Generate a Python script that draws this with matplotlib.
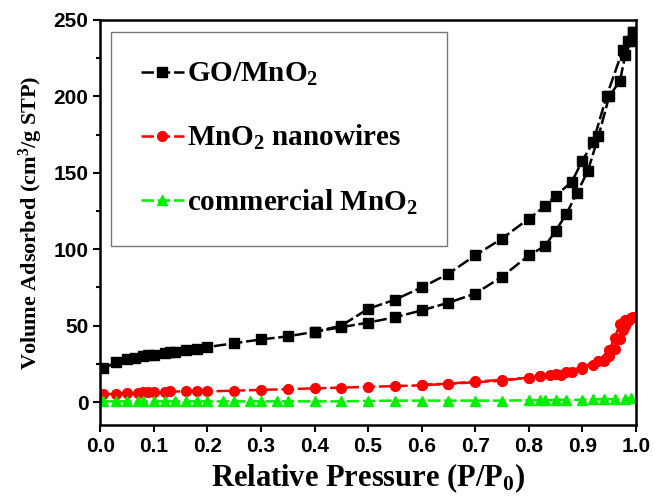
import matplotlib.pyplot as plt
from matplotlib.ticker import MultipleLocator

plt.rcParams['mathtext.fontset'] = 'custom'
plt.rcParams['mathtext.rm'] = 'Liberation Serif:bold'
plt.rcParams['mathtext.it'] = 'Liberation Serif:bold'
plt.rcParams['mathtext.bf'] = 'Liberation Serif:bold'

# GO/MnO2 adsorption (lower branch) and desorption (upper branch)
go_ads_x = [0.005, 0.03, 0.05, 0.065, 0.08, 0.09, 0.1, 0.12, 0.13, 0.14, 0.16, 0.18, 0.2,
            0.25, 0.3, 0.35, 0.4, 0.45, 0.5, 0.55, 0.6, 0.65, 0.7, 0.75, 0.8, 0.83, 0.85,
            0.87, 0.89, 0.91, 0.93, 0.95, 0.97, 0.98, 0.99, 0.995]
go_ads_y = [22, 26, 28, 29, 30, 30.5, 31, 32, 32.5, 33, 34, 35, 36,
            38.5, 41, 43, 46, 49, 52, 55.5, 60, 65, 71, 82, 96, 102, 112,
            123, 137, 151, 174, 200, 210, 227, 236, 242]
go_des_x = [0.995, 0.985, 0.975, 0.945, 0.92, 0.9, 0.88, 0.85, 0.83, 0.8, 0.75, 0.7,
            0.65, 0.6, 0.55, 0.5, 0.45, 0.4]
go_des_y = [242, 236, 230, 200, 170, 158, 144, 135, 128, 120, 107, 96,
            84, 75, 67, 61, 50, 46]

# MnO2 nanowires
nw_ads_x = [0.005, 0.03, 0.05, 0.07, 0.08, 0.09, 0.1, 0.12, 0.13, 0.16, 0.18, 0.2, 0.25,
            0.3, 0.35, 0.4, 0.45, 0.5, 0.55, 0.6, 0.65, 0.7, 0.75, 0.8, 0.82, 0.84, 0.86,
            0.88, 0.9, 0.92, 0.94, 0.95, 0.96, 0.97, 0.975, 0.98, 0.985, 0.99, 0.995]
nw_ads_y = [5, 5.5, 6, 6, 6.5, 6.5, 6.5, 6.5, 7, 7, 7, 7, 7.5,
            8, 8.5, 9, 9.5, 10, 10.5, 11, 12, 13, 14, 16, 17, 17.5, 18,
            19.5, 21.5, 24, 27, 30, 35, 41, 47, 50, 53, 55, 56]
nw_des_x = [0.995, 0.99, 0.98, 0.97, 0.96, 0.95, 0.93, 0.9, 0.87, 0.85, 0.82, 0.8,
            0.75, 0.7, 0.65, 0.6]
nw_des_y = [56, 55, 54, 51, 42, 34, 27, 23, 20, 18.5, 17, 16,
            14.5, 13.5, 12, 11.5]

# commercial MnO2
cm_x = [0.005, 0.03, 0.05, 0.07, 0.08, 0.1, 0.12, 0.14, 0.16, 0.18, 0.2, 0.23, 0.25,
        0.28, 0.3, 0.33, 0.35, 0.4, 0.45, 0.5, 0.55, 0.6, 0.65, 0.7, 0.75, 0.8, 0.82,
        0.83, 0.85, 0.87, 0.9, 0.92, 0.94, 0.96, 0.98, 0.99]
cm_y = [0.5, 0.5, 0.5, 0.5, 0.5, 0.5, 0.5, 0.5, 0.5, 0.5, 0.5, 0.5, 0.5,
        0.5, 0.5, 0.5, 0.5, 0.5, 0.5, 0.8, 1, 1, 1, 1, 1, 1.2, 1.2,
        1.2, 1.5, 1.5, 1.5, 1.8, 2, 2, 2.2, 2.5]

fig = plt.figure(figsize=(6.55, 4.96), dpi=100)
ax = fig.add_axes([0.153, 0.143, 0.818, 0.817])

kw = dict(linestyle=(0, (5, 1.5)), linewidth=1.8)
ax.plot(go_ads_x, go_ads_y, color='black', marker='s', markersize=6.5, label='GO/MnO$_2$', **kw)
ax.plot(go_des_x, go_des_y, color='black', marker='s', markersize=6.5, **kw)
ax.plot(nw_ads_x, nw_ads_y, color='red', marker='o', markersize=7, label='MnO$_2$ nanowires', **kw)
ax.plot(nw_des_x, nw_des_y, color='red', marker='o', markersize=7, **kw)
ax.plot(cm_x, cm_y, color='#00ee00', marker='^', markersize=7.5, label='commercial MnO$_2$', **kw)

ax.set_xlim(0, 1.0)
ax.set_ylim(-15, 250)
ax.xaxis.set_major_locator(MultipleLocator(0.1))
ax.yaxis.set_major_locator(MultipleLocator(50))
ax.yaxis.set_minor_locator(MultipleLocator(25))
ax.tick_params(direction='out', length=5, width=1.5, labelsize=15)
ax.tick_params(which='minor', direction='out', length=3, width=1.5)
for lab in ax.get_xticklabels() + ax.get_yticklabels():
    lab.set_fontfamily('Liberation Sans')
    lab.set_fontweight('bold')
for s in ax.spines.values():
    s.set_linewidth(1.8)

ax.set_xlabel('Relative Pressure (P/P$_0$)', fontsize=22, fontweight='bold',
              family='Liberation Serif', labelpad=4)
ax.set_ylabel('Volume Adsorbed (cm$^3$/g STP)', fontsize=16, fontweight='bold',
              family='Liberation Serif', labelpad=6)

leg = ax.legend(loc='upper left', bbox_to_anchor=(0.01, 0.985), fancybox=False,
                prop={'family': 'Liberation Serif', 'weight': 'bold', 'size': 21},
                handlelength=1.5, handletextpad=0.1, labelspacing=1.2,
                borderpad=1.0, borderaxespad=0.2)
leg.get_frame().set_edgecolor('#555555')
leg.get_frame().set_linewidth(1.0)

fig.savefig('out.png', dpi=100)
